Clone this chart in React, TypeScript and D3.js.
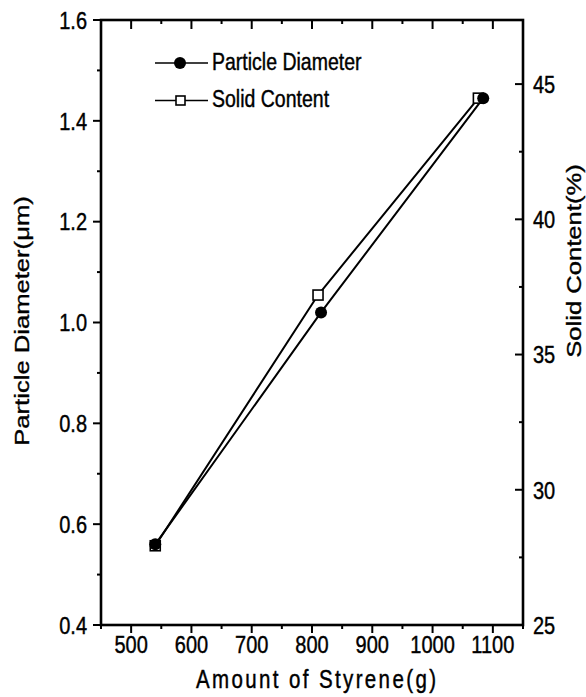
import React from 'react';
import * as d3 from 'd3';

// ---- data ----
const diameterStyrene = [540, 815, 1084];
const particleDiameter = [0.56, 1.02, 1.445];
const solidStyrene = [540, 810, 1076];
const solidContent = [27.93, 37.2, 44.48];

const xTickValues = [500, 600, 700, 800, 900, 1000, 1100];
const xMinorValues = [450, 550, 650, 750, 850, 950, 1050, 1150];
const leftTickValues = [0.4, 0.6, 0.8, 1.0, 1.2, 1.4, 1.6];
const leftMinorValues = [0.5, 0.7, 0.9, 1.1, 1.3, 1.5];
const rightTickValues = [25, 30, 35, 40, 45];
const rightMinorValues = [27.5, 32.5, 37.5, 42.5];
const legendLabels = ['Particle Diameter', 'Solid Content'];

const xTitle = 'Amount of Styrene(g)';
const leftTitle = 'Particle Diameter(\u03bcm)';
const rightTitle = 'Solid Content(%)';

// ---- layout ----
const W = 586;
const H = 697;
const L = 101;
const R = 523;
const T = 20;
const B = 625;
const SY = 1.22; // vertical stretch of the scanned lettering
const FONT = '"Liberation Sans", Arial, Helvetica, sans-serif';

const x = d3.scaleLinear().domain([450, 1150]).range([L, R]);
const yL = d3.scaleLinear().domain([0.4, 1.6]).range([B, T]);
const yR = d3.scaleLinear().domain([25, 47.37]).range([B, T]);

const fmt1 = d3.format('.1f');

type TxtProps = {
  x: number;
  y: number;
  size: number;
  anchor?: 'start' | 'middle' | 'end';
  rotate?: boolean;
  len?: number;
  children: React.ReactNode;
};

function Txt({ x: tx, y: ty, size, anchor = 'start', rotate = false, len, children }: TxtProps) {
  return (
    <text
      transform={`translate(${tx},${ty}) scale(1,${SY})${rotate ? ' rotate(-90)' : ''}`}
      textAnchor={anchor}
      fontSize={size}
      fontFamily={FONT}
      fill="#000"
      stroke="#000"
      strokeWidth={0.35}
      {...(len ? { textLength: len, lengthAdjust: 'spacing' } : {})}
    >
      {children}
    </text>
  );
}

export default function App() {
  const tickSize = 20;
  const capH = 0.716 * tickSize * SY;

  const diameterPts = diameterStyrene.map((v, i) => [x(v), yL(particleDiameter[i])] as [number, number]);
  const solidPts = solidStyrene.map((v, i) => [x(v), yR(solidContent[i])] as [number, number]);
  const line = d3.line();

  const sq = 10;

  return (
    <svg
      width={W}
      height={H}
      viewBox={`0 0 ${W} ${H}`}
      style={{ position: 'absolute', left: 0, top: 0, background: '#fff' }}
    >
      <rect x={0} y={0} width={W} height={H} fill="#fff" />

      {/* bottom ticks */}
      {xTickValues.map((v) => (
        <line key={'xb' + v} x1={x(v)} x2={x(v)} y1={B} y2={B + 8} stroke="#000" strokeWidth={2} />
      ))}
      {xMinorValues.map((v) => (
        <line key={'xbm' + v} x1={x(v)} x2={x(v)} y1={B} y2={B + 4} stroke="#000" strokeWidth={2} />
      ))}
      {/* top ticks (inward) */}
      {xTickValues.map((v) => (
        <line key={'xt' + v} x1={x(v)} x2={x(v)} y1={T} y2={T + 9} stroke="#000" strokeWidth={2} />
      ))}
      {xMinorValues.map((v) => (
        <line key={'xtm' + v} x1={x(v)} x2={x(v)} y1={T} y2={T + 4} stroke="#000" strokeWidth={2} />
      ))}
      {/* left ticks */}
      {leftTickValues.map((v) => (
        <line key={'yl' + v} x1={L - 8} x2={L} y1={yL(v)} y2={yL(v)} stroke="#000" strokeWidth={2} />
      ))}
      {leftMinorValues.map((v) => (
        <line key={'ylm' + v} x1={L - 4} x2={L} y1={yL(v)} y2={yL(v)} stroke="#000" strokeWidth={2} />
      ))}
      {/* right ticks (inward) */}
      {rightTickValues.map((v) => (
        <line key={'yr' + v} x1={R - 8} x2={R} y1={yR(v)} y2={yR(v)} stroke="#000" strokeWidth={2} />
      ))}
      {rightMinorValues.map((v) => (
        <line key={'yrm' + v} x1={R - 4} x2={R} y1={yR(v)} y2={yR(v)} stroke="#000" strokeWidth={2} />
      ))}

      {/* frame */}
      <rect x={L} y={T} width={R - L} height={B - T} fill="none" stroke="#000" strokeWidth={2.6} />

      {/* tick labels */}
      {xTickValues.map((v) => (
        <Txt key={'xl' + v} x={x(v)} y={653} size={tickSize} anchor="middle">
          {String(v)}
        </Txt>
      ))}
      {leftTickValues.map((v) => (
        <Txt key={'yll' + v} x={L - 14} y={yL(v) + capH / 2} size={tickSize} anchor="end">
          {fmt1(v)}
        </Txt>
      ))}
      {rightTickValues.map((v) => (
        <Txt key={'yrl' + v} x={R + 10} y={yR(v) + capH / 2} size={tickSize} anchor="start">
          {String(v)}
        </Txt>
      ))}

      {/* axis titles */}
      <Txt x={(L + R) / 2 + 4} y={688} size={20.5} anchor="middle" len={240}>
        {xTitle}
      </Txt>
      <Txt x={29} y={321} size={21} anchor="middle" rotate>
        {leftTitle}
      </Txt>
      <Txt x={581} y={261} size={21} anchor="middle" rotate>
        {rightTitle}
      </Txt>

      {/* data lines */}
      <path d={line(diameterPts) || ''} fill="none" stroke="#000" strokeWidth={2} strokeLinejoin="round" />
      <path d={line(solidPts) || ''} fill="none" stroke="#000" strokeWidth={2} strokeLinejoin="round" />

      {/* markers */}
      {solidPts.map(([px, py], i) => (
        <rect key={'s' + i} x={px - sq / 2} y={py - sq / 2} width={sq} height={sq} fill="#fff" stroke="#000" strokeWidth={1.6} />
      ))}
      {diameterPts.map(([px, py], i) => (
        <circle key={'c' + i} cx={px} cy={py} r={6} fill="#000" />
      ))}

      {/* legend */}
      <line x1={155} x2={208} y1={63} y2={63} stroke="#000" strokeWidth={1.6} />
      <circle cx={180} cy={63} r={6} fill="#000" />
      <Txt x={212} y={70} size={19.5}>
        {legendLabels[0]}
      </Txt>
      <line x1={155} x2={208} y1={100.5} y2={100.5} stroke="#000" strokeWidth={1.6} />
      <rect x={180.5 - 4.5} y={100.5 - 4.5} width={9} height={9} fill="#fff" stroke="#000" strokeWidth={1.6} />
      <Txt x={212} y={107} size={19.5}>
        {legendLabels[1]}
      </Txt>
    </svg>
  );
}
